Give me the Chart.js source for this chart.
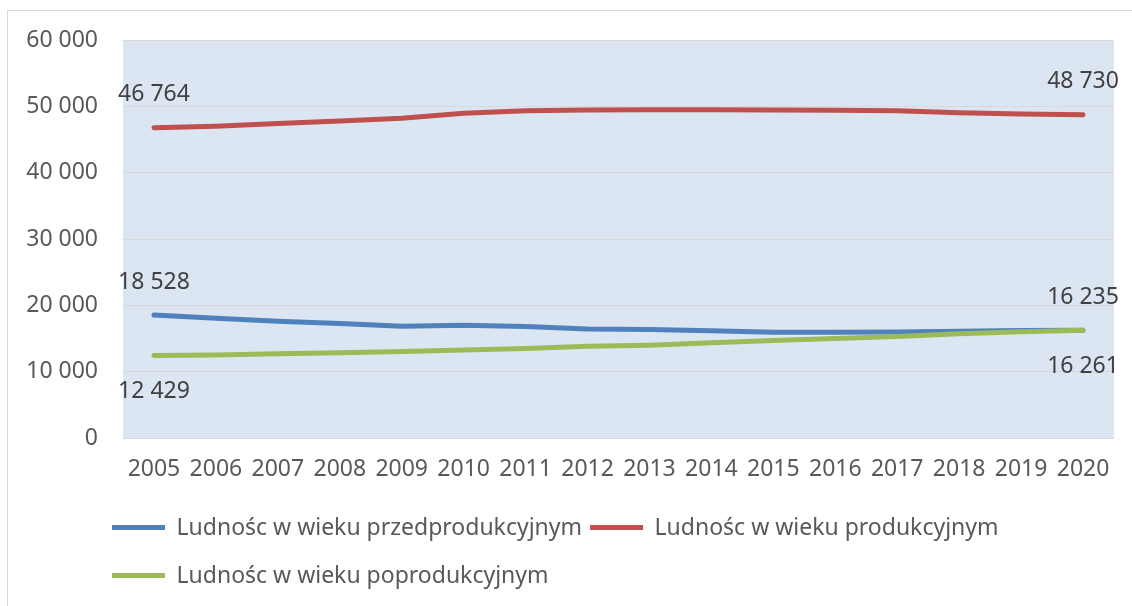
<!DOCTYPE html>
<html>
<head>
<meta charset="utf-8">
<script src="https://cdn.jsdelivr.net/npm/chart.js@4.4.1/dist/chart.umd.min.js"></script>
<style>
  html, body { margin: 0; padding: 0; background: #ffffff; }
  #wrap { position: relative; width: 1132px; height: 606px; overflow: hidden; }
  #frame { position: absolute; left: 7px; top: 10px; width: 1140px; height: 620px; border: 1px solid #d9d9d9; box-sizing: border-box; }
  canvas { position: absolute; left: 0; top: 0; }
</style>
</head>
<body>
<div id="wrap">
  <div id="frame"></div>
  <canvas id="c" width="1132" height="606"></canvas>
</div>
<script>
const years = ["2005","2006","2007","2008","2009","2010","2011","2012","2013","2014","2015","2016","2017","2018","2019","2020"];
const przedprodukcyjny = [18528, 18050, 17600, 17250, 16850, 17000, 16800, 16450, 16350, 16150, 15950, 15950, 15970, 16100, 16200, 16235];
const produkcyjny = [46764, 47000, 47400, 47800, 48200, 48950, 49350, 49450, 49500, 49500, 49450, 49400, 49350, 49050, 48850, 48730];
const poprodukcyjny = [12429, 12500, 12700, 12850, 13050, 13250, 13500, 13850, 14000, 14350, 14700, 15000, 15300, 15700, 16000, 16261];
const seriesNames = ["Ludnośc w wieku przedprodukcyjnym", "Ludnośc w wieku produkcyjnym", "Ludnośc w wieku poprodukcyjnym"];
const yTicks = [0, 10000, 20000, 30000, 40000, 50000, 60000];

const FONT = "'Noto Sans', sans-serif";
const LEGEND_TOP = 500;
const LEGEND_PAD = 8;
const LEGEND_ITEM_H = 40;
const LEGEND_ROW_H = LEGEND_ITEM_H + LEGEND_PAD;
const LEGEND_BAND = 5;

function fmt(v) { return String(v).replace(/\B(?=(\d{3})+(?!\d))/g, ' '); }

const plotBg = {
  id: 'plotBg',
  beforeDraw(chart) {
    const a = chart.chartArea, ctx = chart.ctx;
    ctx.save();
    ctx.fillStyle = '#dce6f2';
    ctx.fillRect(a.left, a.top, a.right - a.left, a.bottom - a.top);
    ctx.restore();
  }
};

const legendPlace = {
  id: 'legendPlace',
  afterLayout(chart) {
    const lg = chart.legend;
    if (!lg) return;
    lg.left = 112 - LEGEND_PAD;
    lg.top = LEGEND_TOP;
    lg.bottom = 606;
    lg.height = 606 - LEGEND_TOP;
  }
};

const endLabels = {
  id: 'endLabels',
  afterDatasetsDraw(chart) {
    const ctx = chart.ctx;
    ctx.save();
    ctx.font = "23px " + FONT;
    ctx.fillStyle = '#404040';
    ctx.textAlign = 'center';
    ctx.textBaseline = 'middle';
    chart.data.datasets.forEach((ds, di) => {
      const meta = chart.getDatasetMeta(di);
      const off = ds.labelOffset;
      [0, ds.data.length - 1].forEach(i => {
        const p = meta.data[i];
        ctx.fillText(fmt(ds.data[i]), p.x, p.y + off);
      });
    });
    ctx.restore();
  }
};

// thin line-style legend swatch inside a tall legend box (keeps row spacing while gaps stay small)
function bandFill(ctx, color) {
  const H = 606;
  const g = ctx.createLinearGradient(0, 0, 0, H);
  const t = 'rgba(0,0,0,0)';
  for (let r = 0; r < 2; r++) {
    const mid = LEGEND_TOP + LEGEND_PAD + r * LEGEND_ROW_H + LEGEND_ITEM_H / 2;
    const s = (mid - LEGEND_BAND / 2) / H, e = (mid + LEGEND_BAND / 2) / H;
    g.addColorStop(s, t); g.addColorStop(s, color);
    g.addColorStop(e, color); g.addColorStop(e, t);
  }
  return g;
}

new Chart(document.getElementById('c'), {
  type: 'line',
  data: {
    labels: years,
    datasets: [
      { label: seriesNames[0], data: przedprodukcyjny, borderColor: '#4f81bd', backgroundColor: '#4f81bd', order: 1, labelOffset: -33 },
      { label: seriesNames[1], data: produkcyjny, borderColor: '#c0504d', backgroundColor: '#c0504d', order: 1, labelOffset: -33 },
      { label: seriesNames[2], data: poprodukcyjny, borderColor: '#9bbb59', backgroundColor: '#9bbb59', order: 0, labelOffset: 36 }
    ]
  },
  options: {
    responsive: false,
    animation: false,
    devicePixelRatio: 1,
    layout: { padding: { left: 0, right: 18, top: 40, bottom: 0 } },
    elements: {
      line: { borderWidth: 5, tension: 0, borderCapStyle: 'round', borderJoinStyle: 'round', fill: false },
      point: { radius: 0, hoverRadius: 0 }
    },
    plugins: {
      tooltip: { enabled: false },
      legend: {
        position: 'bottom',
        align: 'start',
        labels: {
          font: { family: FONT, size: 23 },
          color: '#595959',
          boxWidth: 53,
          boxHeight: LEGEND_ITEM_H,
          padding: LEGEND_PAD,
          sort: (a, b) => a.datasetIndex - b.datasetIndex,
          generateLabels(chart) {
            const items = Chart.defaults.plugins.legend.labels.generateLabels(chart);
            items.forEach(it => {
              const ds = chart.data.datasets[it.datasetIndex];
              it.lineWidth = 0;
              it.strokeStyle = 'rgba(0,0,0,0)';
              it.fillStyle = bandFill(chart.ctx, ds.borderColor);
            });
            return items;
          }
        }
      }
    },
    scales: {
      x: {
        offset: true,
        grid: { display: false, drawTicks: false },
        border: { display: false },
        ticks: {
          font: { family: FONT, size: 23 },
          color: '#595959',
          maxRotation: 0,
          autoSkip: false,
          padding: 18
        },
        afterFit(scale) {
          const lh = scale.chart.legend ? scale.chart.legend.height : 0;
          scale.height = 606 - 438 - lh;
        }
      },
      y: {
        min: 0,
        max: 60000,
        afterBuildTicks(scale) { scale.ticks = yTicks.map(v => ({ value: v })); },
        grid: { color: '#d9d9d9', lineWidth: 1, drawTicks: false },
        border: { display: false },
        ticks: {
          font: { family: FONT, size: 23 },
          color: '#595959',
          padding: 25,
          callback: v => fmt(v)
        },
        afterFit(scale) { scale.width = 123; }
      }
    }
  },
  plugins: [plotBg, legendPlace, endLabels]
});
</script>
</body>
</html>
